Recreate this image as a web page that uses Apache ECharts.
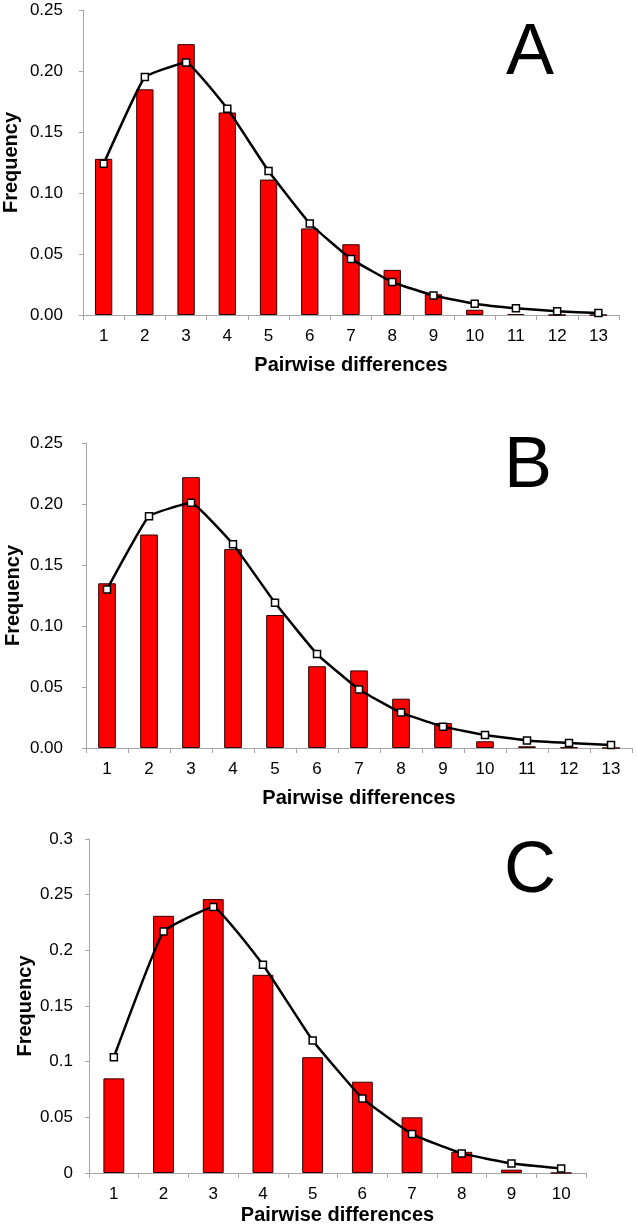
<!DOCTYPE html>
<html>
<head>
<meta charset="utf-8">
<script src="https://cdn.jsdelivr.net/npm/echarts@6/dist/echarts.min.js"></script>
<style>html,body{margin:0;padding:0;background:#fff}#c{width:637px;height:1226px}</style>
</head>
<body>
<div id="c"></div>
<script>
// Panel A
var categoriesA = ['1','2','3','4','5','6','7','8','9','10','11','12','13'];
var observedA = [0.128, 0.185, 0.222, 0.166, 0.111, 0.071, 0.058, 0.037, 0.017, 0.0043, 0.0008, 0, 0];
var expectedA = [0.124, 0.195, 0.207, 0.169, 0.118, 0.075, 0.046, 0.027, 0.016, 0.0093, 0.0055, 0.003, 0.0016];
// Panel B
var categoriesB = ['1','2','3','4','5','6','7','8','9','10','11','12','13'];
var observedB = [0.135, 0.175, 0.222, 0.163, 0.109, 0.067, 0.0636, 0.0404, 0.0205, 0.0055, 0.0014, 0.0005, 0];
var expectedB = [0.130, 0.190, 0.201, 0.167, 0.119, 0.077, 0.048, 0.029, 0.0175, 0.0107, 0.0062, 0.0041, 0.0025];
// Panel C
var categoriesC = ['1','2','3','4','5','6','7','8','9','10'];
var observedC = [0.085, 0.231, 0.246, 0.178, 0.104, 0.082, 0.050, 0.019, 0.003, 0];
var expectedC = [0.104, 0.217, 0.239, 0.187, 0.119, 0.067, 0.035, 0.0176, 0.0086, 0.0041];
var panelLetters = ['A', 'B', 'C'];
var yMaxes = [0.25, 0.25, 0.3];

var FONT = "'Liberation Sans', Arial, sans-serif";
var AXIS_COLOR = '#a6a6a6';

var grids = [
  {left: 83, width: 536, top: 10, height: 305, outerBoundsMode: 'none', containLabel: false},
  {left: 86, width: 546, top: 443, height: 305, outerBoundsMode: 'none', containLabel: false},
  {left: 89, width: 497, top: 839, height: 334, outerBoundsMode: 'none', containLabel: false}
];
var yNameGaps = [62, 63, 54];
var yLabelMargins = [20, 23, 16];
var xNameGaps = [40, 40, 32];
var cats = [categoriesA, categoriesB, categoriesC];
var obs = [observedA, observedB, observedC];
var exp = [expectedA, expectedB, expectedC];

var xAxes = [], yAxes = [], series = [];
for (var i = 0; i < 3; i++) {
  xAxes.push({
    type: 'category', gridIndex: i, data: cats[i], boundaryGap: true,
    name: 'Pairwise differences', nameLocation: 'middle', nameGap: xNameGaps[i],
    nameMoveOverlap: false,
    nameTextStyle: {fontFamily: FONT, fontWeight: 'bold', fontSize: 20, color: '#000'},
    axisLine: {lineStyle: {color: AXIS_COLOR, width: 1}},
    axisTick: {show: true, length: 5, lineStyle: {color: AXIS_COLOR}},
    axisLabel: {fontFamily: FONT, fontSize: 17, color: '#000', margin: 13},
    splitLine: {show: false}
  });
  yAxes.push({
    type: 'value', gridIndex: i, min: 0, max: yMaxes[i], interval: 0.05,
    name: 'Frequency', nameLocation: 'middle', nameGap: yNameGaps[i],
    nameMoveOverlap: false,
    nameTextStyle: {fontFamily: FONT, fontWeight: 'bold', fontSize: 20, color: '#000'},
    axisLine: {show: true, lineStyle: {color: AXIS_COLOR, width: 1}},
    axisTick: {show: true, length: 4, lineStyle: {color: AXIS_COLOR}},
    axisLabel: {fontFamily: FONT, fontSize: 17, color: '#000', margin: yLabelMargins[i],
      formatter: (function (k) { return function (v) { return k < 2 ? v.toFixed(2) : String(+v.toFixed(2)); }; })(i)},
    splitLine: {show: false}
  });
  series.push({
    type: 'bar', xAxisIndex: i, yAxisIndex: i, data: obs[i], barWidth: '42%',
    itemStyle: {color: '#ff0000', borderColor: '#300000', borderWidth: 1},
    z: 2
  });
  series.push({
    type: 'line', xAxisIndex: i, yAxisIndex: i, data: exp[i], smooth: 0.1,
    symbol: 'rect', symbolSize: 7, showAllSymbol: true,
    lineStyle: {color: '#000', width: 2.5},
    itemStyle: {color: '#fff', borderColor: '#000', borderWidth: 1.5},
    z: 3
  });
}

var letterPos = [[530, 54], [528, 467], [530, 872]];
var graphics = panelLetters.map(function (t, i) {
  return {type: 'text', x: letterPos[i][0], y: letterPos[i][1],
    style: {text: t, fontFamily: FONT, fontSize: 72, fill: '#000', textAlign: 'center', textVerticalAlign: 'middle'}};
});

var chart = echarts.init(document.getElementById('c'), null, {renderer: 'canvas'});
chart.setOption({
  animation: false,
  grid: grids,
  xAxis: xAxes,
  yAxis: yAxes,
  series: series,
  graphic: graphics
});
</script>
</body>
</html>
